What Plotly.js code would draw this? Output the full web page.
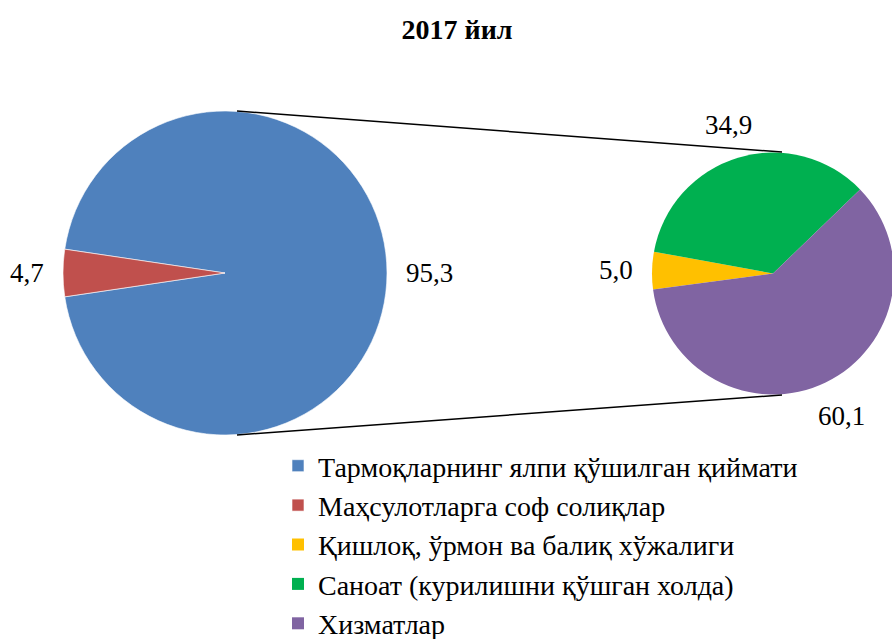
<!DOCTYPE html>
<html>
<head>
<meta charset="utf-8">
<script src="https://cdn.plot.ly/plotly-3.0.1.min.js"></script>
<style>
  html, body { margin: 0; padding: 0; overflow: hidden; background: #fff; }
</style>
</head>
<body>
<div id="chart"></div>
<script>
// ---- data ----
const titleText = "2017 йил";
const mainLabels = ["Тармоқларнинг ялпи қўшилган қиймати", "Маҳсулотларга соф солиқлар"];
const mainValues = [95.3, 4.7];
const mainColors = ["#4F81BD", "#C0504D"];
const subLabels = ["Қишлоқ, ўрмон ва балиқ хўжалиги", "Саноат (курилишни қўшган холда)", "Хизматлар"];
const subValues = [5.0, 34.9, 60.1];
const subColors = ["#FFC000", "#00B050", "#8064A2"];

// page is slightly larger than the window; the window crops it like the reference
const W = 896, H = 660;
const px = x => x / W;
const py = y => 1 - y / H;
const FAMILY = "Liberation Serif";
function mkFont(size) { return { family: FAMILY, size: size, color: "#000000" }; }

// pie geometry (pixels)
const pieA = { x0: 63, x1: 387, y0: 111, y1: 435 };
const pieB = { x0: 652, x1: 894, y0: 152, y1: 395 };

function norm(a) { while (a > 360) a -= 360; while (a < -360) a += 360; return a; }
function total(v) { return v.reduce((a, b) => a + b, 0); }
// rotation so that slice idx is centred at angle target (deg clockwise from 12 o'clock)
function rotFor(values, idx, target) {
  let before = 0;
  for (let i = 0; i < idx; i++) before += values[i];
  return norm(target - (before + values[idx] / 2) / total(values) * 360);
}
const rotA = rotFor(mainValues, 1, 270);
const rotB = rotFor(subValues, 0, 271.4);

function fmt(v) { return v.toFixed(1).replace(".", ","); }

// value labels placed just outside each slice, at the slice's mid-angle
function labelAnnots(values, rot, box) {
  const cx = (box.x0 + box.x1) / 2, cy = (box.y0 + box.y1) / 2;
  const r = Math.min(box.x1 - box.x0, box.y1 - box.y0) / 2;
  const tot = total(values);
  let cum = 0;
  return values.map(v => {
    const a = (rot + (cum + v / 2) / tot * 360) * Math.PI / 180;
    cum += v;
    const txt = fmt(v);
    const halfW = txt.length * 6.0, halfH = 10;
    const d = 18 + halfW * Math.abs(Math.sin(a)) + halfH * Math.abs(Math.cos(a));
    const x = cx + (r + d) * Math.sin(a);
    const y = cy - (r + d) * Math.cos(a);
    return {
      text: txt, xref: "paper", yref: "paper", x: px(x), y: py(y),
      xanchor: "center", yanchor: "middle", showarrow: false, font: mkFont(27)
    };
  });
}

const data = [
  {
    type: "pie",
    labels: mainLabels,
    values: mainValues,
    marker: { colors: mainColors, line: { color: "#ffffff", width: 0.6 } },
    sort: false,
    direction: "clockwise",
    rotation: rotA,
    domain: { x: [px(pieA.x0), px(pieA.x1)], y: [py(pieA.y1), py(pieA.y0)] },
    textinfo: "none",
    hoverinfo: "label+value"
  },
  {
    type: "pie",
    labels: subLabels,
    values: subValues,
    marker: { colors: subColors, line: { width: 0 } },
    sort: false,
    direction: "clockwise",
    rotation: rotB,
    domain: { x: [px(pieB.x0), px(pieB.x1)], y: [py(pieB.y1), py(pieB.y0)] },
    textinfo: "none",
    hoverinfo: "label+value"
  }
];

const layout = {
  width: W,
  height: H,
  margin: { l: 0, r: 0, t: 0, b: 0 },
  paper_bgcolor: "#ffffff",
  title: {
    text: "<b>" + titleText + "</b>",
    font: mkFont(28),
    x: 457 / W, xanchor: "center",
    y: 1 - 29 / H, yanchor: "middle", yref: "container"
  },
  showlegend: true,
  legend: {
    x: px(278), xanchor: "left",
    y: py(441), yanchor: "top",
    font: mkFont(28),
    bgcolor: "rgba(0,0,0,0)",
    traceorder: "normal"
  },
  annotations: labelAnnots(mainValues, rotA, pieA).concat(labelAnnots(subValues, rotB, pieB)),
  shapes: [
    { type: "line", xref: "paper", yref: "paper", x0: px(237), y0: py(111), x1: px(782), y1: py(152), line: { color: "#000", width: 1.5 } },
    { type: "line", xref: "paper", yref: "paper", x0: px(237), y0: py(435), x1: px(782), y1: py(395), line: { color: "#000", width: 1.5 } }
  ]
};

Plotly.newPlot("chart", data, layout, { displayModeBar: false });
</script>
</body>
</html>
